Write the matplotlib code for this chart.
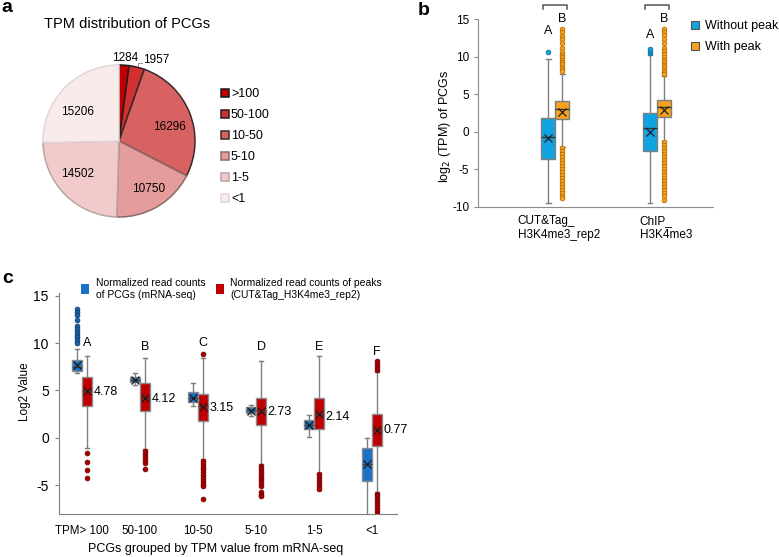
import numpy as np
import matplotlib
matplotlib.use("Agg")
import matplotlib.pyplot as plt
from matplotlib.patches import Patch

plt.rcParams['font.family'] = ['Liberation Sans', 'DejaVu Sans']
plt.rcParams['axes.unicode_minus'] = False

W, H = 779, 557

# ---- data: panel a ----
pie_labels = ['>100', '50-100', '10-50', '5-10', '1-5', '<1']
pie_counts = [1284, 1957, 16296, 10750, 14502, 15206]

# ---- data: panel b ----
b_groups = ['CUT&Tag_\nH3K4me3_rep2', 'ChIP_\nH3K4me3']
b_series = ['Without peak', 'With peak']
b_q1 = [[-3.68, -2.57], [1.65, 2.0]]
b_med = [[-0.75, 0.5], [3.0, 3.25]]
b_q3 = [[1.88, 2.54], [4.15, 4.3]]
b_mean = [[-0.85, -0.08], [2.7, 2.95]]
b_whislo = [[-9.5, -9.5], [-2.0, -1.2]]
b_whishi = [[9.7, 10.2], [7.7, 7.4]]
b_fliers = [
    [[10.6], [10.5, 10.8, 11.0]],
    [[13.7, 13.26, 12.8, 12.37, 11.8, 11.13, 10.6, 10.23, 9.93, 9.57, 9.26, 9.0, 8.67,
      8.37, 8.1, -2.2, -2.6, -3.0, -3.4, -3.8, -4.2, -4.6, -5.0, -5.4, -5.8, -6.2, -6.6,
      -7.0, -7.4, -7.8, -8.2, -8.6, -8.9],
     [13.7, 13.3, 12.9, 12.4, 11.9, 11.2, 10.8, 10.4, 10.0, 9.6, 9.3, 8.9, 8.6, 8.3, 8.0,
      7.7, -1.4, -1.8, -2.2, -2.6, -3.0, -3.4, -3.8, -4.2, -4.6, -5.0, -5.4, -5.8, -6.2,
      -6.6, -7.0, -7.4, -7.8, -8.2, -8.6, -9.1]],
]
b_letters = [['A', 'A'], ['B', 'B']]
b_letter_y = [[13.5, 12.9], [15.1, 15.1]]

# ---- data: panel c ----
c_groups = ['TPM> 100', '50-100', '10-50', '5-10', '1-5', '<1']
c_series = ['Normalized read counts\nof PCGs (mRNA-seq)',
            'Normalized read counts of peaks\n(CUT&Tag_H3K4me3_rep2)']
c_q1 = [[7.0, 5.85, 3.74, 2.6, 0.88, -4.55], [3.38, 2.85, 1.79, 1.34, 0.92, -0.88]]
c_med = [[7.5, 6.1, 4.2, 2.9, 1.35, -2.8], [4.9, 4.2, 3.3, 2.8, 2.5, 0.8]]
c_q3 = [[8.2, 6.44, 4.79, 3.2, 1.87, -1.06], [6.44, 5.74, 4.58, 4.16, 4.16, 2.5]]
c_mean = [[7.65, 6.1, 4.2, 2.85, 1.3, -2.8], [4.9, 4.2, 3.25, 2.85, 2.5, 0.8]]
c_whislo = [[6.8, 5.6, 3.4, 2.3, 0.05, -9.0], [-1.1, -1.2, -2.2, -2.8, -3.7, -5.7]]
c_whishi = [[9.4, 6.8, 5.75, 3.45, 2.4, 0.0], [8.6, 8.4, 8.4, 8.1, 8.6, 6.9]]
c_fliers = [
    [[13.6, 13.3, 13.0, 12.4, 11.8, 11.5, 11.2, 10.9, 10.6, 10.3, 10.0], [], [], [], [], []],
    [[-1.65, -2.55, -3.4, -4.3],
     [-1.45, -1.75, -2.05, -2.35, -2.7, -3.3],
     [8.84, -2.45, -2.75, -3.05, -3.35, -3.65, -3.95, -4.25, -4.55, -4.85, -5.1, -6.45],
     [-3.0, -3.3, -3.6, -3.9, -4.2, -4.5, -4.8, -5.1, -5.7, -6.0, -6.2],
     [-3.85, -4.15, -4.45, -4.75, -5.05, -5.4],
     [7.2, 7.5, 7.8, 8.1, -5.9, -6.2, -6.5, -6.8, -7.1, -7.4, -7.7, -8.0]],
]
c_mean_labels = [4.78, 4.12, 3.15, 2.73, 2.14, 0.77]
c_letters = ['A', 'B', 'C', 'D', 'E', 'F']
c_letter_y = [10.0, 9.55, 10.0, 9.55, 9.55, 9.1]

fig = plt.figure(figsize=(W / 100, H / 100), dpi=100)


def px_axes(l, t, r, b):
    return fig.add_axes([l / W, 1 - b / H, (r - l) / W, (b - t) / H])


def make_stats(q1, med, q3, mean, lo, hi, fl):
    return [dict(q1=q1[i], med=med[i], q3=q3[i], mean=mean[i], whislo=lo[i],
                 whishi=hi[i], fliers=fl[i]) for i in range(len(q1))]


# ================= a: pie =================
ax_a = px_axes(5, 27, 233, 255)
pie_colors = ['#C00000', '#D13030', '#D86262', '#E59C9C', '#F1CBCB', '#FAEBEB']
pie_edges = ['#1a1a1a', '#2a1a1a', '#3a2a2a', '#8a6a6a', '#b8a4a4', '#e2d6d6']
# where each count label sits (pie radius = 1)
pie_label_xy = [(0.08, 1.09), (0.316, 1.066), (0.67, 0.18), (0.39, -0.63),
                (-0.55, -0.43), (-0.55, 0.38)]
wedges, _ = ax_a.pie(pie_counts, startangle=90, counterclock=False, radius=1,
                     colors=pie_colors, wedgeprops=dict(linewidth=1.1))
for w, ec in zip(wedges, pie_edges):
    w.set_edgecolor(ec)
ax_a.set_xlim(-1.5, 1.5)
ax_a.set_ylim(-1.5, 1.5)
for i, (lx, ly) in enumerate(pie_label_xy):
    ax_a.text(lx, ly, str(pie_counts[i]), ha='left' if i == 1 else 'center',
              va='center', fontsize=8.5)
# little leader line for the 50-100 slice
ax_a.plot([0.246, 0.246, 0.305], [0.99, 1.03, 1.03], color='#999999', lw=0.7)
fig.text(127 / W, 1 - 24 / H, 'TPM distribution of PCGs', ha='center', va='center',
         fontsize=10.5)
fig.legend(wedges, pie_labels, loc='upper left', bbox_to_anchor=(221 / W, 1 - 88 / H),
           frameon=False, fontsize=9, handlelength=0.6, handleheight=0.6,
           handletextpad=0.2, labelspacing=0.72, borderpad=0, borderaxespad=0)

# ================= b: boxplots =================
ax_b = px_axes(477.5, 19.3, 713, 206.7)
b_colors = ['#10A3E2', '#F7A11C']
b_flier_ec = ['#0a6f9e', '#b86d00']
off_b, wid_b = 0.069, 0.135
for s in range(2):
    pos = [g + 1 + (2 * s - 1) * off_b for g in range(len(b_groups))]
    stats = make_stats(b_q1[s], b_med[s], b_q3[s], b_mean[s], b_whislo[s], b_whishi[s],
                       b_fliers[s])
    ax_b.bxp(stats, positions=pos, widths=wid_b, patch_artist=True, showmeans=True,
             capwidths=wid_b * 0.35,
             boxprops=dict(facecolor=b_colors[s], edgecolor='#7f7f7f', linewidth=1),
             medianprops=dict(color='#333333', linewidth=1),
             whiskerprops=dict(color='#7f7f7f', linewidth=1),
             capprops=dict(color='#7f7f7f', linewidth=1),
             meanprops=dict(marker='x', markeredgecolor='#222222', markersize=6,
                            markeredgewidth=0.9),
             flierprops=dict(marker='o', markerfacecolor=b_colors[s],
                             markeredgecolor=b_flier_ec[s], markersize=3.3,
                             markeredgewidth=0.6))
    for g in range(len(b_groups)):
        ax_b.text(pos[g], b_letter_y[s][g], b_letters[s][g], ha='center', va='center',
                  fontsize=9)
for g in range(len(b_groups)):
    x1, x2 = g + 1 - off_b - 0.05, g + 1 + off_b + 0.05
    ax_b.plot([x1, x1, x2, x2], [16.35, 16.85, 16.85, 16.35], color='#555555', lw=1.1,
              clip_on=False)
    ax_b.text(g + 1 - 0.37 + 0.2 * g, -11.1, b_groups[g], ha='left', va='top',
              fontsize=8.5, linespacing=1.2)
ax_b.set_xlim(0.235, 2.55)
ax_b.set_ylim(-10, 15)
ax_b.set_yticks([-10, -5, 0, 5, 10, 15])
ax_b.set_xticks([])
ax_b.tick_params(axis='y', length=3, color='#8c8c8c', labelsize=8.5, pad=3)
for sp in ['top', 'right']:
    ax_b.spines[sp].set_visible(False)
for sp in ['left', 'bottom']:
    ax_b.spines[sp].set_color('#8c8c8c')
ax_b.set_ylabel('log$_2$ (TPM) of PCGs', fontsize=9)
ax_b.yaxis.set_label_coords(-0.105, 0.43)
b_handles = [Patch(facecolor=c, edgecolor='#555555', linewidth=0.8) for c in b_colors]
fig.legend(b_handles, b_series, loc='upper left', bbox_to_anchor=(691 / W, 1 - 20 / H),
           frameon=False, fontsize=9, handlelength=0.6, handleheight=0.6,
           handletextpad=0.5, labelspacing=0.75, borderpad=0, borderaxespad=0)

# ================= c: boxplots =================
ax_c = px_axes(58.5, 293.3, 397, 514)
c_colors = ['#1A72C4', '#BF0000']
c_flier_fc = ['#1D5FA6', '#A80000']
c_flier_ec = ['#0d3d70', '#6a0000']
off_c, wid_c = 0.086, 0.164
for s in range(2):
    pos = [g + (2 * s - 1) * off_c for g in range(len(c_groups))]
    stats = make_stats(c_q1[s], c_med[s], c_q3[s], c_mean[s], c_whislo[s], c_whishi[s],
                       c_fliers[s])
    ax_c.bxp(stats, positions=pos, widths=wid_c, patch_artist=True, showmeans=True,
             capwidths=wid_c * 0.35,
             boxprops=dict(facecolor=c_colors[s], edgecolor='#8c8c8c', linewidth=1),
             medianprops=dict(color='#404040', linewidth=0.8),
             whiskerprops=dict(color='#7f7f7f', linewidth=1),
             capprops=dict(color='#7f7f7f', linewidth=1),
             meanprops=dict(marker='x', markeredgecolor='#1a1a1a', markersize=6,
                            markeredgewidth=0.9),
             flierprops=dict(marker='o', markerfacecolor=c_flier_fc[s],
                             markeredgecolor=c_flier_ec[s], markersize=3.5,
                             markeredgewidth=0.5))
for g in range(len(c_groups)):
    xr = g + off_c
    ax_c.text(xr, c_letter_y[g], c_letters[g], ha='center', va='center', fontsize=9)
    ax_c.text(xr + wid_c / 2 + 0.03, c_mean_labels[g], f'{c_mean_labels[g]:.2f}',
              ha='left', va='center', fontsize=9)
ax_c.set_xlim(-0.405, 5.43)
ax_c.set_ylim(-8.05, 15.25)
ax_c.set_yticks([-5, 0, 5, 10, 15])
ax_c.set_xticks(range(len(c_groups)))
ax_c.set_xticklabels(c_groups, fontsize=8.3)
ax_c.tick_params(axis='x', length=0, pad=8)
ax_c.tick_params(axis='y', length=3, color='#7f7f7f', labelsize=10, pad=4)
for sp in ['top', 'right']:
    ax_c.spines[sp].set_visible(False)
for sp in ['left', 'bottom']:
    ax_c.spines[sp].set_color('#7f7f7f')
ax_c.set_ylabel('Log2 Value', fontsize=8.5)
ax_c.yaxis.set_label_coords(-0.08, 0.555)
ax_c.set_xlabel('PCGs grouped by TPM value from mRNA-seq', fontsize=9)
ax_c.xaxis.set_label_coords(0.465, -0.13)
c_handles = [Patch(facecolor=c, edgecolor='none') for c in c_colors]
fig.legend(c_handles, c_series, loc='upper left', bbox_to_anchor=(81 / W, 1 - 278 / H),
           ncol=2, frameon=False, fontsize=7.5, handlelength=0.8, handleheight=1.1,
           handletextpad=0.6, columnspacing=1.0, borderpad=0, borderaxespad=0)

# panel letters
fig.text(1 / W, 1 - 12 / H, 'a', fontsize=14, fontweight='bold', va='baseline')
fig.text(418 / W, 1 - 15 / H, 'b', fontsize=14, fontweight='bold', va='baseline')
fig.text(2 / W, 1 - 283 / H, 'c', fontsize=14, fontweight='bold', va='baseline')

fig.savefig('out.png', dpi=100)
